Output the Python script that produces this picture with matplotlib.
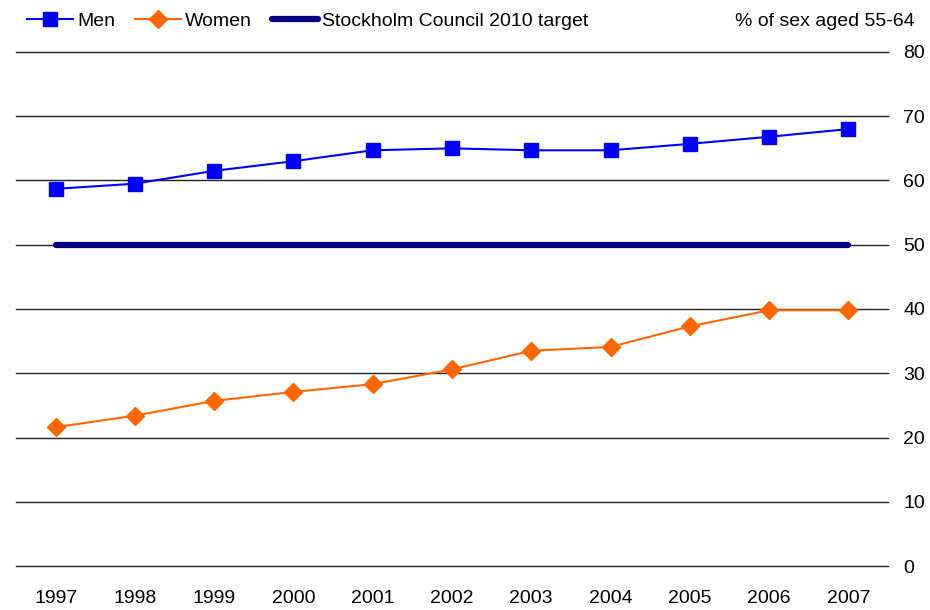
import numpy as np
import matplotlib.pyplot as plt

plt.rcParams['font.family'] = ['Liberation Sans', 'DejaVu Sans']

#%% Data
years = ['1997', '1998', '1999', '2000', '2001', '2002',
         '2003', '2004', '2005', '2006', '2007']
men = [58.7, 59.5, 61.5, 63.0, 64.7, 65.0, 64.7, 64.7, 65.7, 66.8, 68.0]
women = [21.6, 23.4, 25.7, 27.1, 28.3, 30.6, 33.5, 34.1, 37.3, 39.8, 39.8]
target = [50] * len(years)
y_ticks = [0, 10, 20, 30, 40, 50, 60, 70, 80]

#%% Plot
fig = plt.figure(figsize=(9.3, 6.1), dpi=100)
ax = fig.add_axes([0.0172, 0.0721, 0.9376, 0.8427])

x = np.arange(len(years))

for t in y_ticks:
    ax.axhline(t, color='#222222', linewidth=1.0, zorder=1, clip_on=False)

ax.plot(x, target, color='#000080', linewidth=4.5, solid_capstyle='round',
        label='Stockholm Council 2010 target', zorder=2)
ax.plot(x, men, color='#0000FF', linewidth=1.5, marker='s',
        markersize=10, label='Men', zorder=3)
ax.plot(x, women, color='#FF6600', linewidth=1.5, marker='D',
        markersize=9, label='Women', zorder=3)

ax.set_xlim(-0.5, len(years) - 0.5)
ax.set_ylim(0, 80)
ax.set_xticks(x)
ax.set_xticklabels(years, fontsize=14)
ax.set_yticks(y_ticks)
ax.set_yticklabels([str(t) for t in y_ticks], fontsize=14)
ax.yaxis.tick_right()
ax.tick_params(axis='both', length=0)
ax.tick_params(axis='y', pad=11)
ax.tick_params(axis='x', pad=17)
for sp in ax.spines.values():
    sp.set_visible(False)

handles, labels = ax.get_legend_handles_labels()
order = [1, 2, 0]
fig.legend([handles[i] for i in order], [labels[i] for i in order],
           loc='upper left', bbox_to_anchor=(0.01, 1.008), ncol=3,
           frameon=False, fontsize=14, handlelength=2.4,
           handletextpad=0.2, columnspacing=1.0)

fig.text(0.984, 0.964, '% of sex aged 55-64', ha='right', va='center', fontsize=14)

fig.savefig('out.png', dpi=100)
